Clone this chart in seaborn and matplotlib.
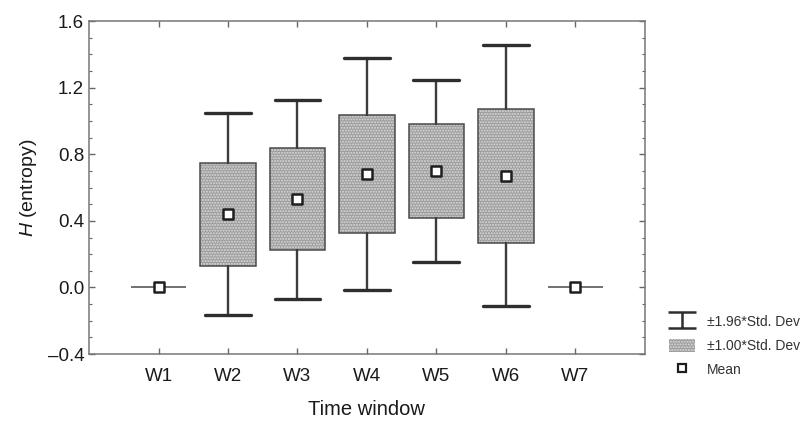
import numpy as np
import matplotlib
matplotlib.use("Agg")
import matplotlib.pyplot as plt
from matplotlib.lines import Line2D
from matplotlib.patches import Patch
from matplotlib.path import Path
from matplotlib.ticker import MultipleLocator
import seaborn as sns

# Entropy summary per time window: mean and standard deviation
windows = ["W1", "W2", "W3", "W4", "W5", "W6", "W7"]
means = [0.0, 0.44, 0.53, 0.68, 0.70, 0.67, 0.0]
sds = [0.0, 0.31, 0.305, 0.355, 0.28, 0.40, 0.0]
y_ticks = [-0.4, 0.0, 0.4, 0.8, 1.2, 1.6]

sns.set_theme(style="ticks")
plt.rcParams["font.family"] = ["Liberation Sans", "DejaVu Sans"]
plt.rcParams["mathtext.fontset"] = "custom"
plt.rcParams["mathtext.it"] = "Liberation Sans:italic"
plt.rcParams["mathtext.rm"] = "Liberation Sans"

fig = plt.figure(figsize=(8.10, 4.21), dpi=100)
ax = fig.add_axes([0.110, 0.159, 0.686, 0.791])

stats = []
for name, m, s in zip(windows, means, sds):
    stats.append(dict(label=name, mean=m, med=m, q1=m - s, q3=m + s,
                      whislo=m - 1.96 * s, whishi=m + 1.96 * s, fliers=[]))
pos = np.arange(len(windows))

box_face = "#9c9c9c"
dot_color = "#dcdcdc"

# stippled fill of the +-1 SD boxes
ax.bxp(stats, positions=pos, widths=0.8, patch_artist=True, showcaps=False,
       showfliers=False,
       boxprops=dict(facecolor=box_face, edgecolor=dot_color, hatch="......",
                     linewidth=0),
       whiskerprops=dict(visible=False), medianprops=dict(visible=False),
       manage_ticks=False)

# outlines, whiskers (+-1.96 SD) and caps
parts = ax.bxp(stats, positions=pos, widths=0.8, capwidths=0.66,
               patch_artist=True, showfliers=False,
               boxprops=dict(facecolor="none", edgecolor="#4a4a4a", linewidth=1.1),
               whiskerprops=dict(color="#3c3c3c", linewidth=1.7),
               capprops=dict(color="#2e2e2e", linewidth=2.4),
               medianprops=dict(visible=False),
               manage_ticks=False)
for i, s in enumerate(sds):
    if s == 0:
        parts["caps"][2 * i].set_visible(False)
        parts["caps"][2 * i + 1].set_visible(False)
        parts["whiskers"][2 * i].set_visible(False)
        parts["whiskers"][2 * i + 1].set_visible(False)

# mean markers
sns.scatterplot(x=pos, y=means, marker="s", s=55, color="white",
                edgecolor="#1e1e1e", linewidth=1.8, zorder=5, ax=ax,
                legend=False)

ax.set_xlim(-1, 7)
ax.set_ylim(-0.4, 1.6)
ax.set_xticks(pos, windows)
ax.set_yticks(y_ticks, [f"{v:.1f}".replace("-", "\u2013") for v in y_ticks])
ax.yaxis.set_minor_locator(MultipleLocator(0.1))
ax.tick_params(axis="both", which="both", direction="in", top=True,
               right=True, color="#666666", labelsize=13.5,
               labelcolor="#1a1a1a")
ax.tick_params(axis="both", which="major", length=4, width=1)
ax.tick_params(axis="y", which="minor", length=2.5, width=0.8)
ax.tick_params(axis="x", which="major", pad=10)
for sp in ax.spines.values():
    sp.set_color("#777777")
    sp.set_linewidth(1.1)

ax.set_xlabel("Time window", fontsize=14.5, color="#1a1a1a", labelpad=11)
ax.set_ylabel(r"$\mathit{H}$ (entropy)", fontsize=14, color="#1a1a1a",
              labelpad=6)

# legend
ibeam = Path([(-1, 0.55), (1, 0.55), (0, 0.55), (0, -0.55), (-1, -0.55),
              (1, -0.55)],
             [Path.MOVETO, Path.LINETO, Path.MOVETO, Path.LINETO,
              Path.MOVETO, Path.LINETO])
handles = [
    Line2D([], [], linestyle="none", marker=ibeam, markersize=20,
           markeredgecolor="#2e2e2e", markerfacecolor="none",
           markeredgewidth=1.8),
    Patch(facecolor=box_face, edgecolor=dot_color, hatch="......",
          linewidth=0),
    Line2D([], [], linestyle="none", marker="s", markersize=6,
           markerfacecolor="white", markeredgecolor="#1e1e1e",
           markeredgewidth=1.6),
]
labels = ["\u00b11.96*Std. Dev", "\u00b11.00*Std. Dev", "Mean"]
fig.legend(handles, labels, loc="upper left",
           bbox_to_anchor=(0.826, 0.253), frameon=False, fontsize=10,
           handlelength=1.9, handleheight=1.1, handletextpad=0.8,
           labelspacing=0.7, borderaxespad=0, borderpad=0,
           labelcolor="#333333")

fig.savefig("out.png", dpi=100)
